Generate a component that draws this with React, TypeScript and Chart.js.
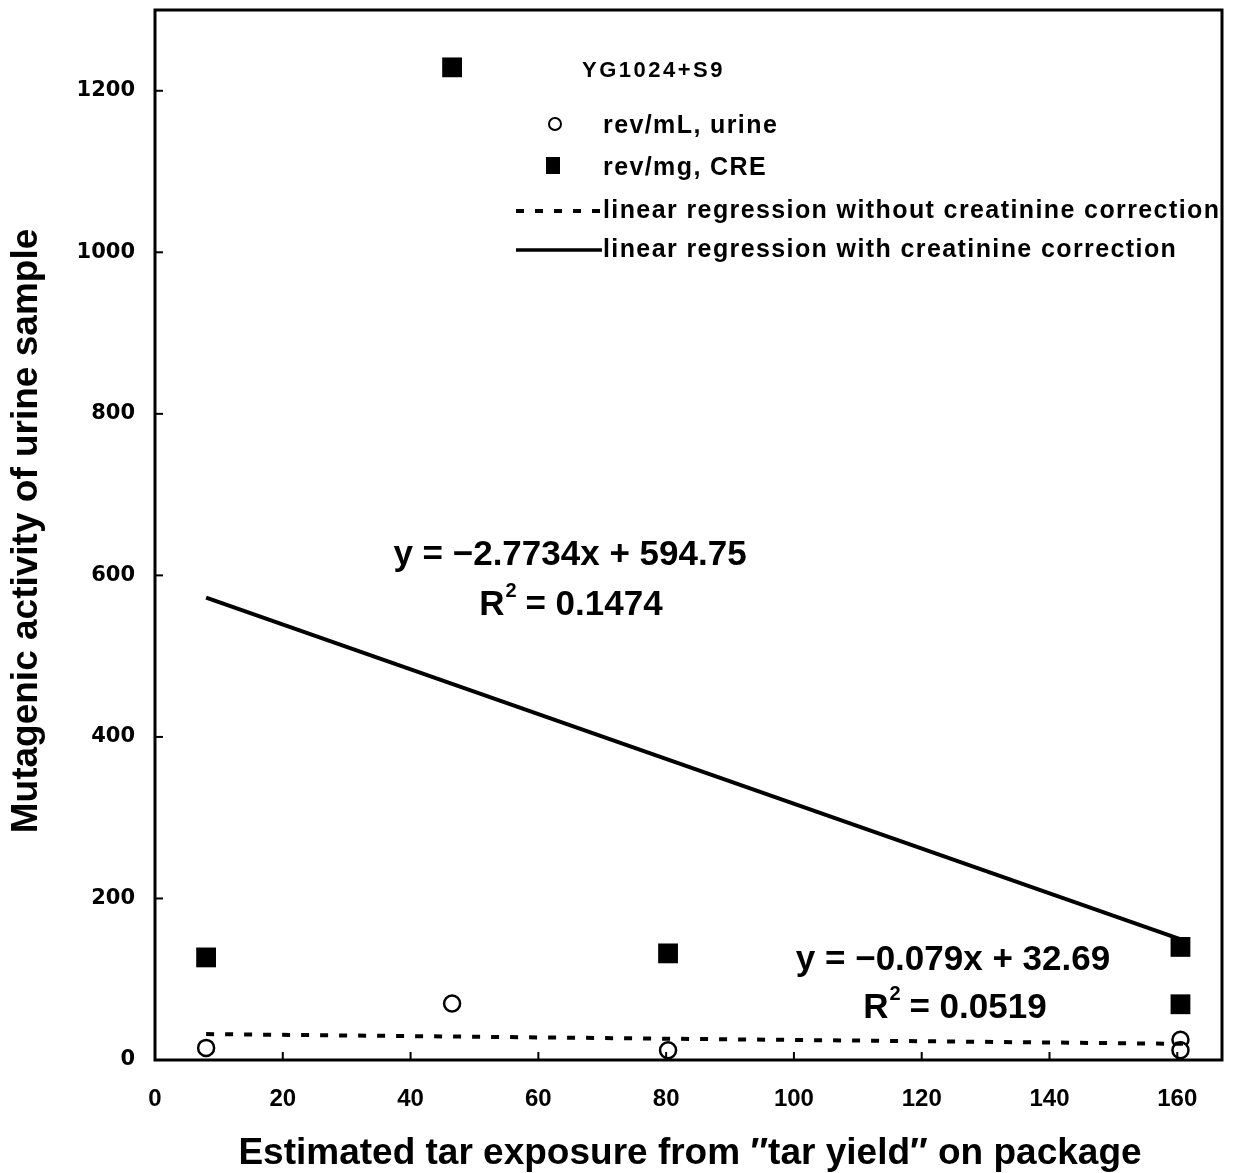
import React, { useEffect, useRef } from "react";
import { Chart, registerables } from "chart.js";

Chart.register(...registerables);

// Data
const tarX = [8, 46.5, 80.3, 160.5, 160.5];
const urineRev = [15, 70, 12, 25, 12]; // rev/mL, urine (open circles)
const creRev = [127, 1229, 132, 140, 69]; // rev/mg, CRE (filled squares)
const regX = [8, 161];
const regWithCre = [572.6, 148.2]; // y = -2.7734x + 594.75
const regWithoutCre = [32.1, 20.0]; // y = -0.079x + 32.69

const xTicks = [0, 20, 40, 60, 80, 100, 120, 140, 160];
const yTicks = [0, 200, 400, 600, 800, 1000, 1200];

const legendTitle = "YG1024+S9";
const legendLabels = [
  "rev/mL, urine",
  "rev/mg, CRE",
  "linear regression without creatinine correction",
  "linear regression with creatinine correction",
];
const eqWith = ["y = \u22122.7734x + 594.75", "0.1474"];
const eqWithout = ["y = \u22120.079x + 32.69", "0.0519"];
const xTitle = "Estimated tar exposure from \u2033tar yield\u2033 on package";
const yTitle = "Mutagenic activity of urine sample";

const FONT = "'Liberation Sans', Arial, sans-serif";

const overlay = {
  id: "overlay",
  afterDraw(chart: any) {
    const { ctx, chartArea: a, scales } = chart;
    const xs = scales.x;
    const ys = scales.y;
    ctx.save();
    ctx.fillStyle = "#000";
    ctx.strokeStyle = "#000";
    // frame
    ctx.lineWidth = 3;
    ctx.setLineDash([]);
    ctx.strokeRect(a.left, a.top, a.right - a.left, a.bottom - a.top);
    // inward tick marks
    ctx.lineWidth = 2;
    yTicks.forEach((v) => {
      const py = ys.getPixelForValue(v);
      ctx.beginPath();
      ctx.moveTo(a.left, py);
      ctx.lineTo(a.left + 8, py);
      ctx.stroke();
    });
    xTicks.forEach((v) => {
      const px = xs.getPixelForValue(v);
      ctx.beginPath();
      ctx.moveTo(px, a.bottom);
      ctx.lineTo(px, a.bottom - 8);
      ctx.stroke();
    });

    // axis titles
    ctx.textAlign = "center";
    ctx.textBaseline = "middle";
    ctx.font = `bold 37px ${FONT}`;
    ctx.fillText(xTitle, 690, 1154);
    ctx.save();
    ctx.translate(27, 531);
    ctx.rotate(-Math.PI / 2);
    ctx.font = `bold 37px ${FONT}`;
    ctx.fillText(yTitle, 0, 0);
    ctx.restore();

    // equations
    ctx.font = `bold 35px ${FONT}`;
    ctx.fillText(eqWith[0], 570, 555);
    ctx.fillText(eqWithout[0], 953, 960);
    const drawR2 = (cx: number, cy: number, val: string) => {
      const left = "R";
      const right = " = " + val;
      ctx.font = `bold 20px ${FONT}`;
      const wSup = ctx.measureText("2").width;
      ctx.font = `bold 35px ${FONT}`;
      const wL = ctx.measureText(left).width;
      const wR = ctx.measureText(right).width;
      const total = wL + wSup + wR;
      const x0 = cx - total / 2;
      ctx.textAlign = "left";
      ctx.fillText(left, x0, cy);
      ctx.font = `bold 20px ${FONT}`;
      ctx.fillText("2", x0 + wL + 1, cy - 14);
      ctx.font = `bold 35px ${FONT}`;
      ctx.fillText(right, x0 + wL + wSup, cy);
      ctx.textAlign = "center";
    };
    drawR2(571, 605, eqWith[1]);
    drawR2(955, 1008, eqWithout[1]);

    // legend
    ctx.textAlign = "left";
    ctx.font = `bold 22px ${FONT}`;
    (ctx as any).letterSpacing = "2.5px";
    ctx.fillText(legendTitle, 582, 71);
    (ctx as any).letterSpacing = "1.4px";
    ctx.font = `bold 25px ${FONT}`;
    // circle
    ctx.lineWidth = 2;
    ctx.beginPath();
    ctx.arc(555, 124, 6, 0, Math.PI * 2);
    ctx.stroke();
    ctx.fillText(legendLabels[0], 603, 126);
    // square
    ctx.fillRect(546, 157, 14, 17);
    ctx.fillText(legendLabels[1], 603, 168);
    // dashed
    ctx.lineWidth = 4;
    ctx.setLineDash([8, 11]);
    ctx.beginPath();
    ctx.moveTo(516, 211);
    ctx.lineTo(600, 211);
    ctx.stroke();
    ctx.setLineDash([]);
    ctx.fillText(legendLabels[2], 603, 211);
    // solid
    ctx.lineWidth = 3.5;
    ctx.beginPath();
    ctx.moveTo(516, 250);
    ctx.lineTo(602, 250);
    ctx.stroke();
    ctx.fillText(legendLabels[3], 603, 250);
    ctx.restore();
  },
};

export default function App() {
  const ref = useRef<HTMLCanvasElement>(null);
  useEffect(() => {
    document.body.style.margin = "0";
    const canvas = ref.current!;
    const chart = new Chart(canvas, {
      type: "scatter",
      data: {
        datasets: [
          {
            label: legendLabels[3],
            type: "line",
            data: regX.map((x, i) => ({ x, y: regWithCre[i] })),
            borderColor: "#000",
            borderWidth: 4,
            pointRadius: 0,
            fill: false,
          },
          {
            label: legendLabels[2],
            type: "line",
            data: regX.map((x, i) => ({ x, y: regWithoutCre[i] })),
            borderColor: "#000",
            borderWidth: 4,
            borderDash: [8, 11],
            pointRadius: 0,
            fill: false,
          },
          {
            label: legendLabels[1],
            data: tarX.map((x, i) => ({ x, y: creRev[i] })),
            pointStyle: "rect",
            pointRadius: 14,
            backgroundColor: "#000",
            borderColor: "#000",
            borderWidth: 0,
          },
          {
            label: legendLabels[0],
            data: tarX.map((x, i) => ({ x, y: urineRev[i] })),
            pointStyle: "circle",
            pointRadius: 8,
            backgroundColor: "#fff",
            borderColor: "#000",
            borderWidth: 2.5,
          },
        ],
      },
      options: {
        responsive: false,
        animation: false,
        layout: { autoPadding: false, padding: { top: 10, right: 19, left: 0, bottom: 0 } },
        plugins: { legend: { display: false }, tooltip: { enabled: false } },
        scales: {
          x: {
            type: "linear",
            min: 0,
            max: 167,
            grid: { display: false, drawTicks: false },
            border: { display: false },
            afterFit: (s: any) => {
              s.height = 113;
              s.paddingLeft = 0;
              s.paddingRight = 0;
            },
            afterBuildTicks: (s: any) => {
              s.ticks = xTicks.map((v) => ({ value: v }));
            },
            ticks: {
              padding: 25,
              color: "#000",
              callback: (v: any) => String(v),
              font: { family: "'Liberation Sans', Arial, sans-serif", weight: "bold", size: 24 },
            },
          },
          y: {
            type: "linear",
            min: 0,
            max: 1300,
            grid: { display: false, drawTicks: false },
            border: { display: false },
            afterFit: (s: any) => {
              s.width = 155;
              s.paddingTop = 0;
              s.paddingBottom = 0;
            },
            afterBuildTicks: (s: any) => {
              s.ticks = yTicks.map((v) => ({ value: v }));
            },
            ticks: {
              padding: 20,
              color: "#000",
              callback: (v: any) => String(v),
              font: { family: "'DejaVu Sans', sans-serif", weight: "bold", size: 21 },
            },
          },
        },
      },
      plugins: [overlay],
    } as any);
    return () => chart.destroy();
  }, []);
  return <canvas ref={ref} width={1241} height={1173} style={{ display: "block" }} />;
}
